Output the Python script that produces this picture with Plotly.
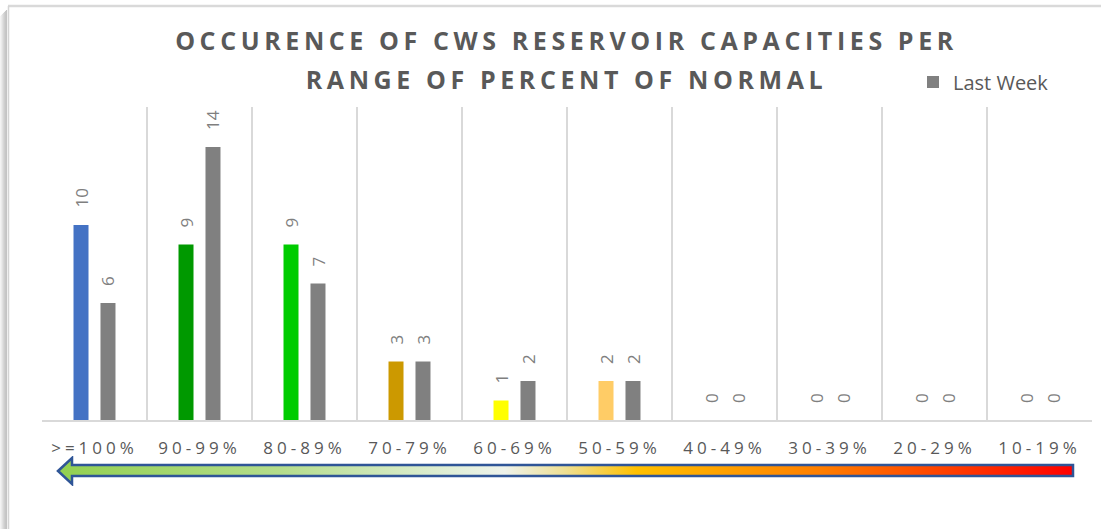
import base64
import plotly.graph_objects as go

# ---------------- data ----------------
categories = [">=100%", "90-99%", "80-89%", "70-79%", "60-69%",
              "50-59%", "40-49%", "30-39%", "20-29%", "10-19%"]
this_week = [10, 9, 9, 3, 1, 2, 0, 0, 0, 0]
last_week = [6, 14, 7, 3, 2, 2, 0, 0, 0, 0]
this_week_colors = ["#4472C4", "#009900", "#00CC00", "#CC9900", "#FFFF00",
                    "#FFCC66", "#FF9900", "#FF6600", "#FF3300", "#FF0000"]
last_week_color = "#808080"
series_names = ["This Week", "Last Week"]
title_lines = ["OCCURENCE OF CWS RESERVOIR CAPACITIES PER",
               "RANGE OF PERCENT OF NORMAL"]

# ---------------- geometry helpers ----------------
W, H = 1101, 529
ML, MR, MT, MB = 42, 9, 107, 109
PW, PH = W - ML - MR, H - MT - MB


def xp(px):
    return (px - ML) / PW


def yp(py):
    return (H - MB - py) / PH


TEXT = "#595959"
LABEL = "#7F7F7F"
GRID = "#D9D9D9"
FONT = "Open Sans"


def spaced(s, px, size=None):
    style = f"letter-spacing:{px}px"
    if size:
        style += f";font-size:{size}px"
    return f"<span style='{style}'>{s}</span>"


fig = go.Figure()
fig.add_trace(go.Bar(x=categories, y=this_week, name=series_names[0],
                     marker=dict(color=this_week_colors, line=dict(width=0)),
                     showlegend=False))
fig.add_trace(go.Bar(x=categories, y=last_week, name=series_names[1],
                     marker=dict(color=last_week_color, line=dict(width=0))))

# rotated data labels above each bar
annotations = []
for series, shift in ((this_week, -13.5), (last_week, 13.5)):
    for cat, val in zip(categories, series):
        annotations.append(dict(
            x=cat, y=val, xref="x", yref="y", text=str(val), showarrow=False,
            textangle=-90, xanchor="center", yanchor="bottom",
            xshift=shift, yshift=15,
            font=dict(family=FONT, size=17, color=LABEL)))

# gradient arrow under the axis (decoration)
stops = [(0.0, "#92D050"), (0.22, "#B5DD8C"), (0.40, "#E4F0DC"),
         (0.44, "#EEF2EA"), (0.50, "#EEDF92"), (0.57, "#FFC000"),
         (0.75, "#FF7F00"), (1.0, "#FF0000")]
stop_xml = "".join(f'<stop offset="{o}" stop-color="{c}"/>' for o, c in stops)
svg = (
    '<svg xmlns="http://www.w3.org/2000/svg" width="1021" height="30" '
    'viewBox="0 0 1021 30" preserveAspectRatio="none">'
    f'<defs><linearGradient id="g" x1="0" y1="0" x2="1" y2="0">{stop_xml}'
    '</linearGradient></defs>'
    '<polygon points="3,15 17,2 17,9 1018,9 1018,20 17,20 17,28" '
    'fill="url(#g)" stroke="#2F5597" stroke-width="2.5"/></svg>'
)
src = "data:image/svg+xml;base64," + base64.b64encode(svg.encode()).decode()

images = [dict(source=src, xref="paper", yref="paper",
               x=xp(55), y=yp(456), sizex=(1076 - 55) / PW, sizey=30 / PH,
               xanchor="left", yanchor="top", sizing="stretch", layer="above")]

# chart frame with shadow on the left
shapes = []
shadow = ["#F4F4F4", "#ECECEC", "#E2E2E2", "#D8D8D8", "#CFCFCF", "#C8C8C8", "#C4C4C4"]
for i, c in enumerate(shadow):
    shapes.append(dict(type="line", xref="paper", yref="paper",
                       x0=xp(i + 0.5), x1=xp(i + 0.5), y0=yp(10 + (6 - i)), y1=yp(H + 5),
                       line=dict(color=c, width=1.2)))
shapes.append(dict(type="line", xref="paper", yref="paper",
                   x0=xp(8), x1=xp(W + 5), y0=yp(6), y1=yp(6),
                   line=dict(color=GRID, width=2.5)))
shapes.append(dict(type="line", xref="paper", yref="paper",
                   x0=xp(8.5), x1=xp(8.5), y0=yp(6), y1=yp(H + 5),
                   line=dict(color="#D4D4D4", width=1.5)))

title_text = "<br>".join(spaced(t, 4.6, 25) for t in title_lines)
tick_alias = {c: spaced(c, 4) for c in categories}

fig.update_layout(
    width=W, height=H,
    margin=dict(l=ML, r=MR, t=MT, b=MB),
    paper_bgcolor="white", plot_bgcolor="white",
    barmode="group", bargap=0.486, bargroupgap=0.444,
    title=dict(text=title_text, x=xp(566.5), xref="paper", xanchor="center",
               y=1 - 50 / H, yref="container", yanchor="top",
               font=dict(family=FONT, size=30, color=TEXT, weight="bold")),
    legend=dict(x=xp(913), y=yp(82), xanchor="left", yanchor="middle",
                xref="paper", yref="paper", bgcolor="rgba(0,0,0,0)",
                font=dict(family=FONT, size=20, color=TEXT)),
    xaxis=dict(type="category", tickson="boundaries", showgrid=True,
               gridcolor=GRID, gridwidth=1.5, showline=True, linecolor=GRID,
               linewidth=2, ticks="outside", ticklen=30,
               tickcolor="rgba(0,0,0,0)", labelalias=tick_alias,
               ticklabelstandoff=12,
               tickfont=dict(family=FONT, size=17, color=TEXT),
               fixedrange=True),
    yaxis=dict(range=[0, 16.05], showgrid=False, zeroline=False,
               showticklabels=False, showline=False, ticks="", fixedrange=True),
    annotations=annotations,
    images=images,
    shapes=shapes,
)

fig.write_html("out.html", config={"displayModeBar": False},
               post_script="document.body.style.margin='0';")
